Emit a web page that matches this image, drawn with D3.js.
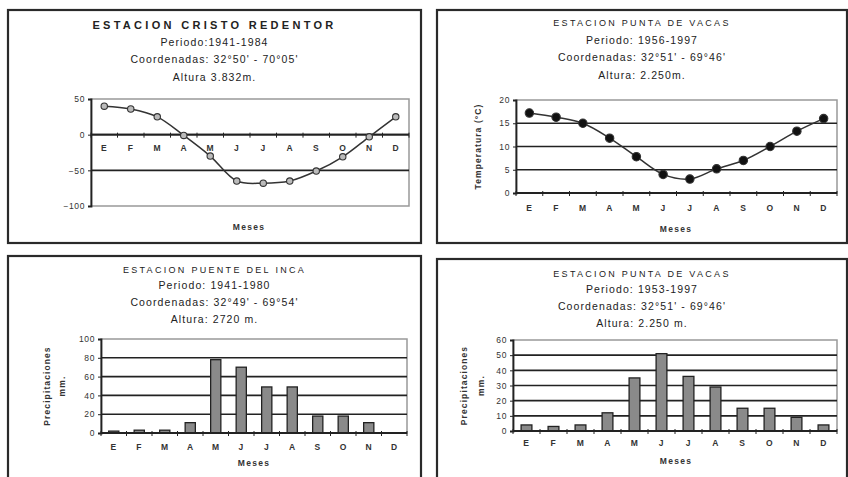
<!DOCTYPE html>
<html>
<head>
<meta charset="utf-8">
<script src="https://cdn.jsdelivr.net/npm/d3@7"></script>
<style>
  body { margin: 0; background: #fff; }
  svg { font-family: "Liberation Sans", Arial, sans-serif; }
</style>
</head>
<body>
<svg id="chart" width="848" height="477"></svg>
<script>
(function(){

	// month initials (Spanish)
	var months = ["E","F","M","A","M","J","J","A","S","O","N","D"];

	var tempCristo = [40, 36, 25, -1, -30, -65, -68, -65, -51, -31, -3, 25];
	var tempPunta = [17.2, 16.3, 15, 11.8, 7.8, 4, 3, 5.2, 7, 10, 13.3, 16];
	var precipInca = [2, 3, 3, 11, 78, 70, 49, 49, 18, 18, 11, 0];
	var precipVacas = [4, 3, 4, 12, 35, 51, 36, 29, 15, 15, 9, 4];

	var ticksCristo = [-100, -50, 0, 50];
	var ticksPunta = [0, 5, 10, 15, 20];
	var ticksInca = [0, 20, 40, 60, 80, 100];
	var ticksVacas = [0, 10, 20, 30, 40, 50, 60];

	var titlesCristo = ["ESTACION CRISTO REDENTOR", "Periodo:1941-1984", "Coordenadas: 32°50' - 70°05'", "Altura 3.832m."];
	var titlesPunta = ["ESTACION PUNTA DE VACAS", "Periodo: 1956-1997", "Coordenadas: 32°51' - 69°46'", "Altura: 2.250m."];
	var titlesInca = ["ESTACION PUENTE DEL INCA", "Periodo: 1941-1980", "Coordenadas: 32°49' - 69°54'", "Altura: 2720 m."];
	var titlesVacas = ["ESTACION PUNTA DE VACAS", "Periodo: 1953-1997", "Coordenadas: 32°51' - 69°46'", "Altura: 2.250 m."];

	var svg = d3.select("#chart");

	drawPanel({ x: 8, y: 10, w: 413, h: 233 }, titlesCristo, [25, 42, 59, 77], true);
	drawPanel({ x: 437, y: 10, w: 410, h: 233 }, titlesPunta, [22, 40, 57, 75], false);
	drawPanel({ x: 8, y: 256, w: 413, h: 230 }, titlesInca, [269, 285, 302, 319], false);
	drawPanel({ x: 437, y: 259, w: 410, h: 230 }, titlesVacas, [273, 289, 306, 323], false);

	drawLineChart({ left: 91, right: 409, top: 99, bottom: 206 }, tempCristo, [-100, 50], ticksCristo, {
		labelY: 151, mesesY: 230, zeroAxis: true, grid: [-50, 0], dot: "open", yLabel: null, mesesX: 249
	});
	drawLineChart({ left: 516, right: 837, top: 100, bottom: 193 }, tempPunta, [0, 20], ticksPunta, {
		labelY: 211, mesesY: 232, zeroAxis: false, grid: [5, 10, 15], dot: "filled", yLabel: ["Temperatura (°C)"], yLabelX: [481], mesesX: 676
	});
	drawBarChart({ left: 101, right: 407, top: 339, bottom: 433 }, precipInca, [0, 100], ticksInca, {
		labelY: 450, mesesY: 466, grid: [20, 40, 60, 80], yLabelX: [50, 65], mesesX: 254
	});
	drawBarChart({ left: 513, right: 837, top: 340, bottom: 431 }, precipVacas, [0, 60], ticksVacas, {
		labelY: 446, mesesY: 464, grid: [10, 20, 30, 40, 50], yLabelX: [467, 484], mesesX: 676
	});

	function drawPanel(box, titles, ys, boldFirst){
		svg.append("rect")
			.attr("x", box.x).attr("y", box.y)
			.attr("width", box.w).attr("height", box.h)
			.attr("fill", "none").attr("stroke", "#2a2a2a").attr("stroke-width", 2.2);

		var cx = box.x + box.w / 2;
		svg.append("g").selectAll("text").data(titles).enter().append("text")
			.attr("x", cx)
			.attr("y", function(d, i) { return ys[i] + 4; })
			.attr("text-anchor", "middle")
			.attr("font-size", function(d, i) { return i == 0 ? (boldFirst ? 11 : 9) : 10.5; })
			.attr("font-weight", function(d, i) { return i == 0 && boldFirst ? "bold" : "normal"; })
			.attr("letter-spacing", function(d, i) { return i == 0 ? (boldFirst ? 3.3 : 2.3) : 1.1; })
			.attr("fill", "#222")
			.text(function(d) { return d; });
	}

	function styleSmall(sel){
		sel.attr("font-size", 8.5).attr("fill", "#333").attr("letter-spacing", 0.6)
			.attr("font-family", "Liberation Sans, Arial, sans-serif");
	}

	function frame(area, y, domain, ticks, grid){
		var g = svg.append("g");
		g.append("rect")
			.attr("x", area.left).attr("y", area.top)
			.attr("width", area.right - area.left).attr("height", area.bottom - area.top)
			.attr("fill", "none").attr("stroke", "#999").attr("stroke-width", 1.5);

		g.selectAll("line.grid").data(grid).enter().append("line")
			.attr("class", "grid")
			.attr("x1", area.left).attr("x2", area.right)
			.attr("y1", function(d) { return y(d); }).attr("y2", function(d) { return y(d); })
			.attr("stroke", "#222").attr("stroke-width", 1.6);

		var axis = d3.axisLeft(y).tickValues(ticks).tickSize(3).tickPadding(3);
		var ag = g.append("g").attr("transform", "translate(" + area.left + ",0)").call(axis);
		ag.select(".domain").attr("stroke", "#222").attr("stroke-width", 1.8);
		ag.selectAll(".tick line").attr("stroke", "#222");
		ag.selectAll("text").call(styleSmall);
		return g;
	}

	function monthAxis(g, x, area, axisY, labelY, mesesX, mesesY){
		var bw = x.step();
		var bounds = d3.range(13).map(function(i) { return area.left + i * bw; });

		g.append("line")
			.attr("x1", area.left).attr("x2", area.right)
			.attr("y1", axisY).attr("y2", axisY)
			.attr("stroke", "#222").attr("stroke-width", 1.8);

		g.selectAll("line.mt").data(bounds).enter().append("line")
			.attr("class", "mt")
			.attr("x1", function(d) { return d; }).attr("x2", function(d) { return d; })
			.attr("y1", axisY - 2).attr("y2", axisY + 3)
			.attr("stroke", "#222").attr("stroke-width", 1);

		g.selectAll("text.ml").data(months).enter().append("text")
			.attr("class", "ml")
			.attr("x", function(d, i) { return x(i) + bw / 2; })
			.attr("y", labelY)
			.attr("text-anchor", "middle")
			.attr("font-weight", "bold")
			.call(styleSmall)
			.text(function(d) { return d; });

		g.append("text")
			.attr("x", mesesX).attr("y", mesesY)
			.attr("text-anchor", "middle")
			.attr("font-weight", "bold")
			.call(styleSmall)
			.attr("letter-spacing", 1.3)
			.text("Meses");
	}

	function yTitle(g, lines, xs, cy){
		lines.forEach(function(t, i) {
			g.append("text")
				.attr("transform", "translate(" + xs[i] + "," + cy + ") rotate(-90)")
				.attr("text-anchor", "middle")
				.attr("font-weight", "bold")
				.call(styleSmall)
				.attr("letter-spacing", 1.1)
				.text(t);
		});
	}

	function drawLineChart(area, values, domain, ticks, opt){
		var x = d3.scaleBand().domain(d3.range(12)).range([area.left, area.right]);
		var y = d3.scaleLinear().domain(domain).range([area.bottom, area.top]);
		var g = frame(area, y, domain, ticks, opt.grid);

		var axisY = opt.zeroAxis ? y(0) : area.bottom;
		monthAxis(g, x, area, axisY, opt.labelY, opt.mesesX, opt.mesesY);

		var line = d3.line()
			.x(function(d, i) { return x(i) + x.bandwidth() / 2; })
			.y(function(d) { return y(d); })
			.curve(d3.curveCatmullRom.alpha(0.5));

		g.append("path").datum(values)
			.attr("d", line)
			.attr("fill", "none").attr("stroke", "#333").attr("stroke-width", 1.5);

		g.selectAll("circle").data(values).enter().append("circle")
			.attr("cx", function(d, i) { return x(i) + x.bandwidth() / 2; })
			.attr("cy", function(d) { return y(d); })
			.attr("r", opt.dot == "open" ? 3.2 : 4.2)
			.attr("fill", opt.dot == "open" ? "#bbb" : "#111")
			.attr("stroke", "#333").attr("stroke-width", 1.1);

		if (opt.yLabel) yTitle(g, opt.yLabel, opt.yLabelX, (area.top + area.bottom) / 2);
	}

	function drawBarChart(area, values, domain, ticks, opt){
		var x = d3.scaleBand().domain(d3.range(12)).range([area.left, area.right]).paddingInner(0.6).paddingOuter(0.3);
		var y = d3.scaleLinear().domain(domain).range([area.bottom, area.top]);
		var g = frame(area, y, domain, ticks, opt.grid);

		g.selectAll("rect.bar").data(values).enter().append("rect")
			.attr("class", "bar")
			.attr("x", function(d, i) { return x(i); })
			.attr("y", function(d) { return y(d); })
			.attr("width", x.bandwidth())
			.attr("height", function(d) { return area.bottom - y(d); })
			.attr("fill", "#8a8a8a").attr("stroke", "#222").attr("stroke-width", 1.3);

		var xb = d3.scaleBand().domain(d3.range(12)).range([area.left, area.right]);
		monthAxis(g, xb, area, area.bottom, opt.labelY, opt.mesesX, opt.mesesY);

		yTitle(g, ["Precipitaciones", "mm."], opt.yLabelX, (area.top + area.bottom) / 2);
	}

})();
</script>
</body>
</html>
